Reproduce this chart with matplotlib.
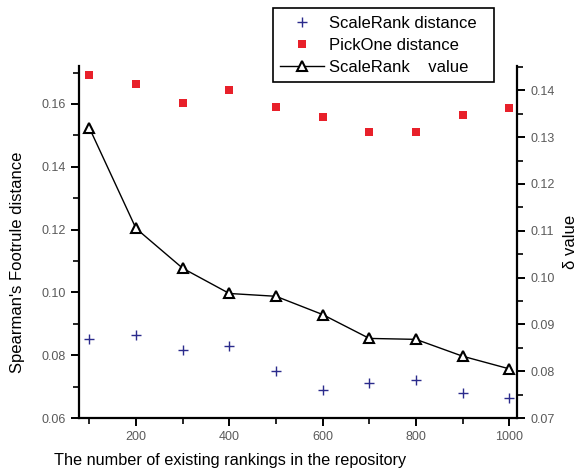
import numpy as np
import matplotlib
matplotlib.use('Agg')
import matplotlib.pyplot as plt
from matplotlib.ticker import MultipleLocator

# data
n_rankings = [100, 200, 300, 400, 500, 600, 700, 800, 900, 1000]
scalerank_dist = [0.0851, 0.0864, 0.0815, 0.0828, 0.0751, 0.0690, 0.0713, 0.0720, 0.0681, 0.0664]
pickone_dist = [0.1693, 0.1664, 0.1602, 0.1644, 0.1590, 0.1558, 0.1511, 0.1511, 0.1564, 0.1588]
scalerank_delta = [0.1320, 0.1105, 0.1020, 0.0966, 0.0960, 0.0921, 0.0870, 0.0868, 0.0832, 0.0805]

plt.rcParams['font.family'] = ['Liberation Sans', 'DejaVu Sans']
tick_grey = '#5a5a5a'

fig = plt.figure(figsize=(5.82, 4.72), dpi=100)
ax = fig.add_axes([0.1363, 0.1144, 0.752, 0.7458])
ax2 = ax.twinx()

l1, = ax.plot(n_rankings, scalerank_dist, linestyle='none', marker='+', color='#2b2b8c',
              markersize=7.5, markeredgewidth=1.0, label='ScaleRank distance')
l2, = ax.plot(n_rankings, pickone_dist, linestyle='none', marker='s', color='#e8202a',
              markersize=6.2, markeredgewidth=0, label='PickOne distance')
l3, = ax2.plot(n_rankings, scalerank_delta, color='black', linewidth=1.0, marker='^',
               markersize=7, markerfacecolor='white', markeredgecolor='black',
               markeredgewidth=1.5, label='ScaleRank    value')

ax.set_xlim(78.6, 1016.5)
ax.set_ylim(0.06, 0.1721)
ax2.set_ylim(0.07, 0.1452)

ax.xaxis.set_major_locator(MultipleLocator(200))
ax.xaxis.set_minor_locator(MultipleLocator(100))
ax.yaxis.set_major_locator(MultipleLocator(0.02))
ax.yaxis.set_minor_locator(MultipleLocator(0.01))
ax2.yaxis.set_major_locator(MultipleLocator(0.01))
ax2.yaxis.set_minor_locator(MultipleLocator(0.005))
ax.yaxis.set_major_formatter(plt.FormatStrFormatter('%.2f'))
ax2.yaxis.set_major_formatter(plt.FormatStrFormatter('%.2f'))

for a in (ax, ax2):
    a.spines['top'].set_visible(False)
    for s in ('left', 'right', 'bottom'):
        a.spines[s].set_linewidth(1.6)
    a.tick_params(which='major', direction='out', length=6, width=1.4,
                  labelsize=9, labelcolor=tick_grey)
    a.tick_params(which='minor', direction='out', length=4, width=1.2)
ax.spines['right'].set_visible(False)
ax2.spines['left'].set_visible(False)
ax2.spines['bottom'].set_visible(False)

ax.set_xlabel('The number of existing rankings in the repository', fontsize=11.7)
ax.xaxis.set_label_coords(0.344, -0.1)
ax.set_ylabel("Spearman's Footrule distance", fontsize=12)
ax.yaxis.set_label_coords(-0.125, 0.443)
ax2.set_ylabel('\u03b4 value', fontsize=12, labelpad=6)

leg = fig.legend(handles=[l1, l2, l3], loc='upper left',
                 bbox_to_anchor=(0.469, 0.824, 0.380, 0.159), mode='expand',
                 fontsize=12, frameon=True, fancybox=False, edgecolor='black',
                 framealpha=1, borderaxespad=0, handlelength=2.6, handletextpad=0.3,
                 labelspacing=0.43, borderpad=0.45)
leg.get_frame().set_linewidth(1.2)

fig.savefig('out.png', dpi=100)
